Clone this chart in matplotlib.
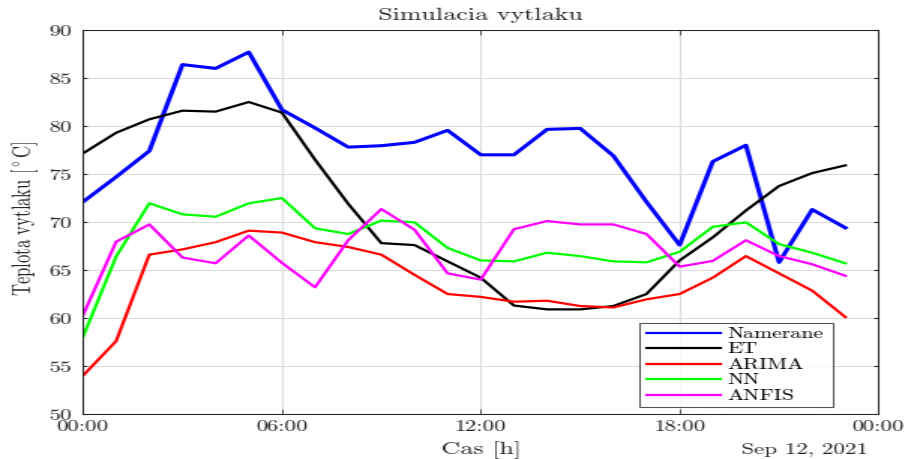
import matplotlib
matplotlib.use("Agg")
import matplotlib.pyplot as plt
import numpy as np

plt.rcParams['font.family'] = ['cmr10', 'DejaVu Serif']
plt.rcParams['mathtext.fontset'] = 'cm'
plt.rcParams['axes.formatter.use_mathtext'] = True

hours = np.arange(24)

namerane = [72.1, 74.7, 77.4, 86.4, 86.0, 87.7, 81.7, 79.8, 77.8, 77.95, 78.3, 79.55,
            77.0, 77.0, 79.65, 79.75, 76.9, 72.1, 67.6, 76.3, 78.0, 65.8, 71.3, 69.4]
et = [77.15, 79.3, 80.7, 81.6, 81.5, 82.5, 81.4, 76.5, 71.9, 67.8, 67.6, 65.9,
      64.2, 61.3, 60.9, 60.9, 61.25, 62.5, 66.0, 68.4, 71.2, 73.75, 75.1, 75.9]
arima = [54.0, 57.6, 66.6, 67.15, 67.9, 69.1, 68.9, 67.9, 67.4, 66.6, 64.5, 62.5,
         62.2, 61.7, 61.8, 61.25, 61.1, 61.95, 62.5, 64.2, 66.45, 64.65, 62.85, 60.1]
nn = [58.05, 66.4, 71.95, 70.8, 70.55, 71.95, 72.5, 69.35, 68.75, 70.15, 69.97, 67.3,
      66.0, 65.9, 66.8, 66.45, 65.9, 65.8, 66.9, 69.5, 69.97, 67.7, 66.8, 65.7]
anfis = [60.3, 67.95, 69.75, 66.3, 65.7, 68.6, 65.75, 63.2, 68.1, 71.35, 69.2, 64.65,
         64.0, 69.25, 70.1, 69.75, 69.75, 68.75, 65.35, 65.95, 68.1, 66.45, 65.6, 64.4]

series_names = ['Namerane', 'ET', 'ARIMA', 'NN', 'ANFIS']
series_colors = ['#0000ff', '#000000', '#ff0000', '#00ff00', '#ff00ff']
series_widths = [2.2, 1.6, 1.6, 1.6, 1.6]

xtick_pos = [0, 6, 12, 18, 24]
xtick_labels = ['00:00', '06:00', '12:00', '18:00', '00:00']
yticks = [50, 55, 60, 65, 70, 75, 80, 85, 90]
date_label = 'Sep 12, 2021'

# The figure is drawn narrow and widened afterwards (wide-glyph export look).
OUT_W, OUT_H = 908, 459
STRETCH = 1.5
draw_w = OUT_W / STRETCH

fig = plt.figure(figsize=(draw_w / 100, OUT_H / 100), dpi=100)
ax = fig.add_axes([0.0914, 0.098, 0.8756, 0.8366])

for vals, name, col, lw in zip([namerane, et, arima, nn, anfis],
                               series_names, series_colors, series_widths):
    ax.plot(hours, vals, color=col, lw=lw, label=name)

ax.set_xlim(0, 24)
ax.set_ylim(50, 90)
ax.set_xticks(xtick_pos)
ax.set_xticklabels(xtick_labels)
ax.set_yticks(yticks)
ax.grid(True, color='#dcdcdc', lw=0.8)
ax.set_axisbelow(True)
ax.tick_params(direction='in', top=True, right=True, labelsize=11,
               colors='#262626')
ax.tick_params(axis='x', length=3.6, width=0.55, pad=4.5)
ax.tick_params(axis='y', length=2.4, width=0.8, pad=4.6)
for sp in ax.spines.values():
    sp.set_color('#262626')
    sp.set_linewidth(0.75)

ax.set_title('Simulacia vytlaku', fontsize=12.5, pad=7, color='#262626')
ax.set_xlabel('Cas [h]', fontsize=12.5, color='#262626')
ax.xaxis.set_label_coords(0.5, -0.104)
ax.xaxis.label.set_va('baseline')
ax.set_ylabel(r'Teplota vytlaku [$^\circ$C]', fontsize=12, color='#262626')
ax.yaxis.set_label_coords(-0.0725, 0.51)
ax.yaxis.label.set_va('center')
ax.text(0.986, -0.104, date_label, transform=ax.transAxes, ha='right',
        va='baseline', fontsize=11, color='#262626')

leg = ax.legend(loc='lower left', bbox_to_anchor=(0.70, 0.018, 0.242, 0.227),
                mode='expand', fontsize=10.5, frameon=True, fancybox=False,
                handlelength=3.4, handletextpad=0.3, borderpad=0.3,
                labelspacing=0.12, borderaxespad=0)
leg.get_frame().set_edgecolor('#262626')
leg.get_frame().set_linewidth(0.75)
for h in leg.get_lines():
    h.set_linewidth(1.6)

# Render, then widen horizontally with linear resampling.
fig.canvas.draw()
img = np.asarray(fig.canvas.buffer_rgba()).astype(float) / 255.0
h, w = img.shape[:2]
xs = (np.arange(OUT_W) + 0.5) * w / OUT_W - 0.5
xs = np.clip(xs, 0, w - 1)
i0 = np.floor(xs).astype(int)
i1 = np.minimum(i0 + 1, w - 1)
f = (xs - i0)[None, :, None]
out = img[:, i0, :3] * (1 - f) + img[:, i1, :3] * f
if h != OUT_H:
    ys = np.clip((np.arange(OUT_H) + 0.5) * h / OUT_H - 0.5, 0, h - 1)
    j0 = np.floor(ys).astype(int)
    j1 = np.minimum(j0 + 1, h - 1)
    g = (ys - j0)[:, None, None]
    out = out[j0] * (1 - g) + out[j1] * g
plt.imsave('out.png', np.clip(out, 0, 1))
